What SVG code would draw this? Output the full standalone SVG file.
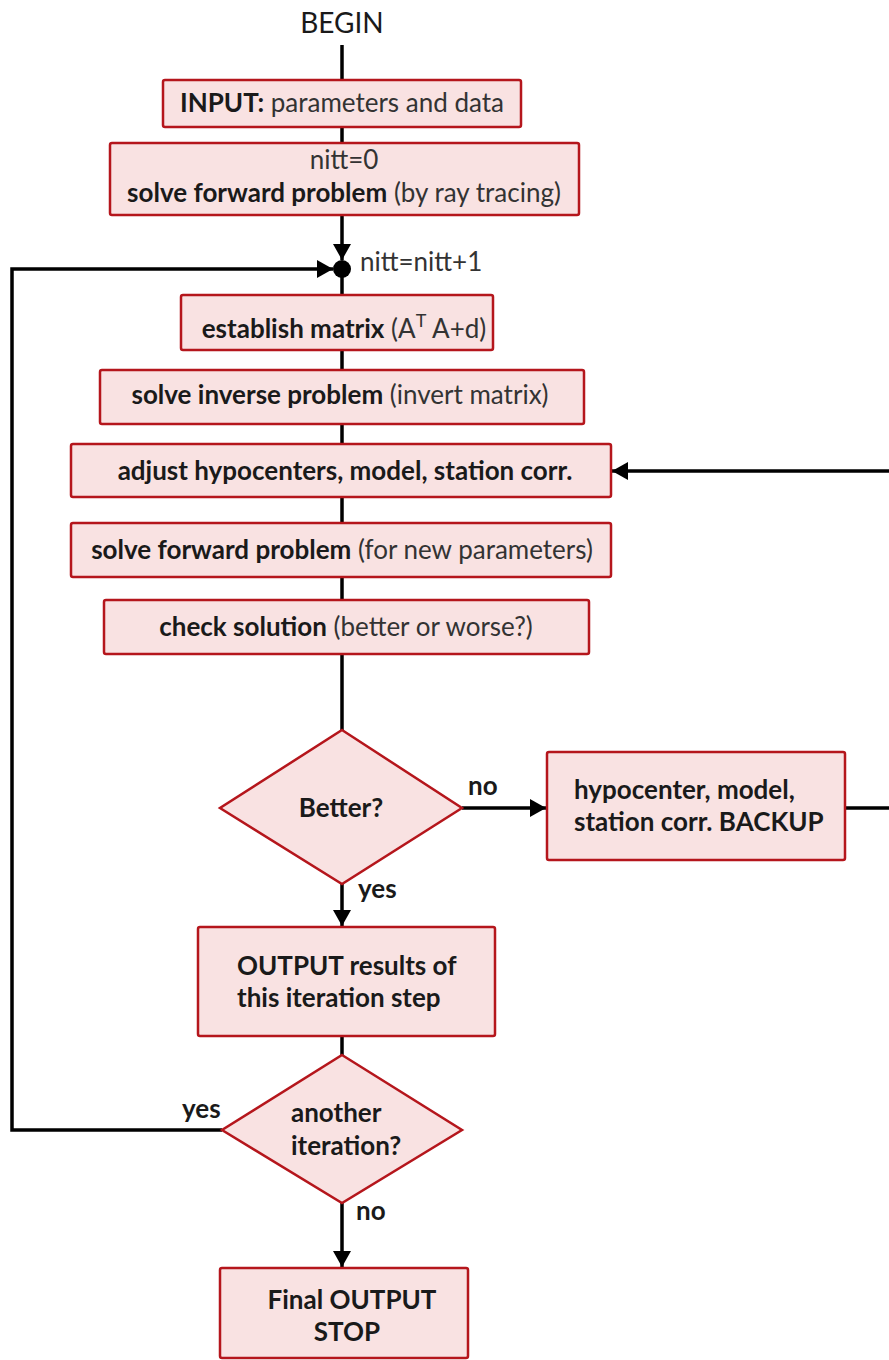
<svg xmlns="http://www.w3.org/2000/svg" width="889" height="1360" viewBox="0 0 889 1360">
<style>
  .box{fill:#f9e2e2;stroke:#b5161c;stroke-width:2.5}
  .t{font-family:Lato,"Open Sans","Liberation Sans",sans-serif;font-size:26px;fill:#1a1a1a}
  .c{text-anchor:middle}
  .b{font-weight:bold}
  .n{fill:#333}
  .ln{fill:none;stroke:#000;stroke-width:3.5}
</style>
<defs>
  <marker id="ah" markerUnits="userSpaceOnUse" markerWidth="20" markerHeight="20" refX="16" refY="9" orient="auto">
    <path d="M0,0 L16,9 L0,18 Z" fill="#000"/>
  </marker>
</defs>
<rect width="889" height="1360" fill="#fff"/>
<g id="connectors">
  <line class="ln" x1="342" y1="45" x2="342" y2="80"/>
  <line class="ln" x1="342" y1="127" x2="342" y2="143"/>
  <line class="ln" x1="342" y1="215" x2="342" y2="260" marker-end="url(#ah)"/>
  <circle cx="342" cy="269" r="9" fill="#000"/>
  <line class="ln" x1="342" y1="269" x2="342" y2="295"/>
  <line class="ln" x1="342" y1="350" x2="342" y2="370"/>
  <line class="ln" x1="342" y1="424" x2="342" y2="444"/>
  <line class="ln" x1="342" y1="497" x2="342" y2="523"/>
  <line class="ln" x1="342" y1="577" x2="342" y2="600"/>
  <line class="ln" x1="342" y1="654" x2="342" y2="730"/>
  <line class="ln" x1="462" y1="808" x2="546" y2="808" marker-end="url(#ah)"/>
  <path class="ln" d="M845,808 H895 V471 H612" marker-end="url(#ah)"/>
  <line class="ln" x1="342" y1="884" x2="342" y2="926" marker-end="url(#ah)"/>
  <line class="ln" x1="342" y1="1036" x2="342" y2="1055"/>
  <path class="ln" d="M222,1130 H12 V269 H333" marker-end="url(#ah)"/>
  <line class="ln" x1="342" y1="1203" x2="342" y2="1267" marker-end="url(#ah)"/>
  <text class="t b" x="468" y="795">no</text>
  <text class="t b" x="358" y="898">yes</text>
  <text class="t b" x="182" y="1118">yes</text>
  <text class="t b" x="356" y="1220">no</text>
  <text class="t n" x="360" y="271">nitt=nitt+1</text>
</g>
<g id="begin">
  <text class="t c" x="342" y="33" style="font-size:28px">BEGIN</text>
</g>
<g id="input">
  <rect class="box" x="163" y="80" width="358" height="47" rx="2"/>
  <text class="t c" x="342" y="112"><tspan class="b">INPUT:</tspan><tspan class="n"> parameters and data</tspan></text>
</g>
<g id="init">
  <rect class="box" x="110" y="143" width="469" height="72" rx="2"/>
  <text class="t c n" x="344" y="169">nitt=0</text>
  <text class="t c" x="344" y="202"><tspan class="b">solve forward problem</tspan><tspan class="n"> (by ray tracing)</tspan></text>
</g>
<g id="establish">
  <rect class="box" x="181" y="295" width="312" height="55" rx="2"/>
  <text class="t c" x="344" y="338"><tspan class="b">establish matrix</tspan><tspan class="n"> (A</tspan><tspan class="n" dy="-11" style="font-size:18px">T</tspan><tspan class="n" dy="11"> A+d)</tspan></text>
</g>
<g id="inverse">
  <rect class="box" x="100" y="370" width="484" height="54" rx="2"/>
  <text class="t c" x="340" y="404"><tspan class="b">solve inverse problem</tspan><tspan class="n"> (invert matrix)</tspan></text>
</g>
<g id="adjust">
  <rect class="box" x="71" y="444" width="540" height="53" rx="2"/>
  <text class="t c b" x="345" y="480">adjust hypocenters, model, station corr.</text>
</g>
<g id="forward">
  <rect class="box" x="71" y="523" width="540" height="54" rx="2"/>
  <text class="t c" x="342" y="559"><tspan class="b">solve forward problem</tspan><tspan class="n"> (for new parameters)</tspan></text>
</g>
<g id="check">
  <rect class="box" x="104" y="600" width="485" height="54" rx="2"/>
  <text class="t c" x="346" y="636"><tspan class="b">check solution</tspan><tspan class="n"> (better or worse?)</tspan></text>
</g>
<g id="better">
  <polygon class="box" points="342,730 462,808 342,884 220,808"/>
  <text class="t c b" x="341" y="817">Better?</text>
</g>
<g id="backup">
  <rect class="box" x="547" y="752" width="298" height="108" rx="2"/>
  <text class="t b" x="574" y="799">hypocenter, model,</text>
  <text class="t b" x="574" y="831">station corr. BACKUP</text>
</g>
<g id="output">
  <rect class="box" x="198" y="927" width="297" height="109" rx="2"/>
  <text class="t b" x="237" y="975">OUTPUT results of</text>
  <text class="t b" x="237" y="1007">this iteration step</text>
</g>
<g id="another">
  <polygon class="box" points="342,1055 462,1130 342,1203 222,1130"/>
  <text class="t b" x="291" y="1122">another</text>
  <text class="t b" x="291" y="1155">iteration?</text>
</g>
<g id="final">
  <rect class="box" x="220" y="1268" width="248" height="90" rx="2"/>
  <text class="t c b" x="352" y="1309">Final OUTPUT</text>
  <text class="t c b" x="347" y="1341">STOP</text>
</g>
</svg>
